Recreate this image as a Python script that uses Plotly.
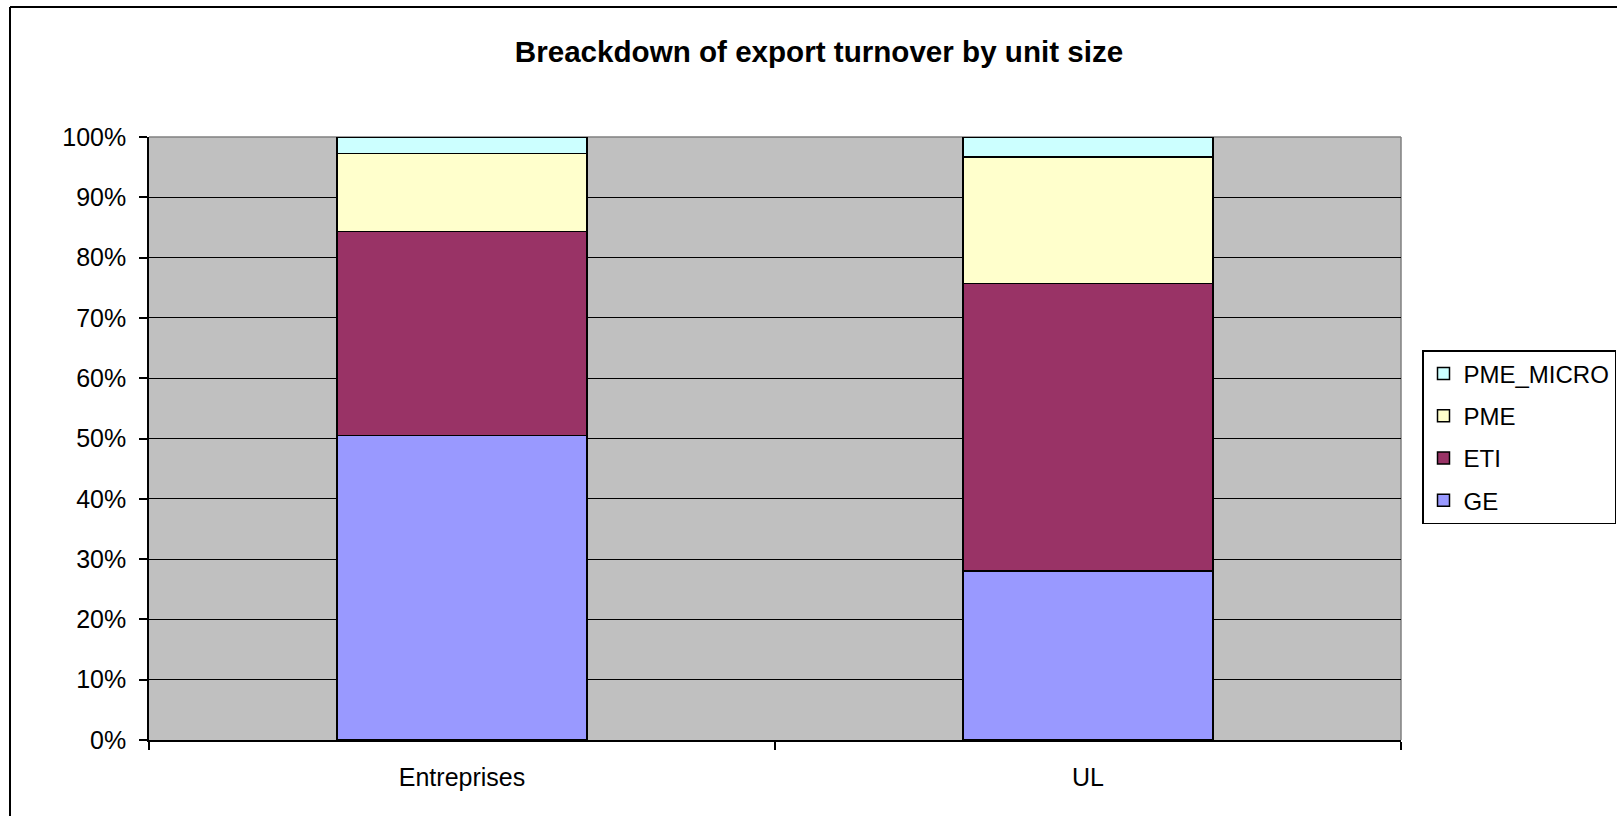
import plotly.graph_objects as go

categories = ["Entreprises", "UL"]
ge = [0.505, 0.280]
eti = [0.338, 0.477]
pme = [0.130, 0.210]
pme_micro = [0.027, 0.033]
series_names = ["GE", "ETI", "PME", "PME_MICRO"]
series_values = [ge, eti, pme, pme_micro]
series_colors = ["#9999FF", "#993366", "#FFFFCC", "#CCFFFF"]
legend_ranks = [4, 3, 2, 1]
y_ticks = [0, 0.1, 0.2, 0.3, 0.4, 0.5, 0.6, 0.7, 0.8, 0.9, 1.0]

W, H = 1617, 816
L, R, T, B = 149, 216, 137, 76
pw, ph = W - L - R, H - T - B

def px_x(px):
    return (px - L) / pw

def px_y(py):
    return (H - B - py) / ph

FONT = "Liberation Sans, Arial, sans-serif"

fig = go.Figure()
for name, vals, col, rank in zip(series_names, series_values, series_colors, legend_ranks):
    fig.add_trace(go.Bar(
        x=categories, y=vals, name=name, legendgroup=name, legendrank=rank,
        marker=dict(color=col, line=dict(color="black", width=1.5)),
    ))

fig.update_layout(
    width=W, height=H,
    barmode="stack", bargap=0.6,
    paper_bgcolor="white", plot_bgcolor="#C0C0C0",
    margin=dict(l=L, r=R, t=T, b=B, autoexpand=False),
    font=dict(family=FONT, size=25, color="black"),
    title=dict(text="<b>Breackdown of export turnover by unit size</b>",
               x=819 / W, xanchor="center", xref="container",
               y=1 - 52 / H, yanchor="middle", yref="container",
               font=dict(family=FONT, size=29.6, color="black")),
    showlegend=True,
    legend=dict(x=px_x(1422), xanchor="left", y=px_y(350), yanchor="top",
                traceorder="grouped", tracegroupgap=8, bgcolor="white",
                bordercolor="black", borderwidth=1.5,
                font=dict(family=FONT, size=24, color="black"),
                itemwidth=30),
    xaxis=dict(type="category", showgrid=False, showline=True, linecolor="black",
               linewidth=1.5, ticks="outside", ticklen=8, tickcolor="black",
               tickwidth=1.5, tickson="boundaries", ticklabelstandoff=14,
               zeroline=False),
    yaxis=dict(range=[0, 1], tickvals=y_ticks, tickformat=".0%", showgrid=True,
               gridcolor="black", gridwidth=1, showline=True, linecolor="black",
               linewidth=1.5, ticks="outside", ticklen=8, tickcolor="black",
               tickwidth=1.5, zeroline=False, ticklabelstandoff=8),
    shapes=[
        dict(type="line", xref="paper", yref="paper", x0=0, x1=1, y0=1, y1=1,
             line=dict(color="#808080", width=1.5), layer="below"),
        dict(type="line", xref="paper", yref="paper", x0=1, x1=1, y0=0, y1=1,
             line=dict(color="#808080", width=1.5), layer="below"),
        dict(type="line", xref="paper", yref="paper", x0=px_x(10), x1=px_x(10),
             y0=px_y(7), y1=px_y(830), line=dict(color="black", width=2)),
        dict(type="line", xref="paper", yref="paper", x0=px_x(10), x1=px_x(1630),
             y0=px_y(7), y1=px_y(7), line=dict(color="black", width=2)),
    ],
)

fig.write_html("out.html", config={"displayModeBar": False},
               post_script="document.body.style.margin='0';document.body.style.overflow='hidden';")
